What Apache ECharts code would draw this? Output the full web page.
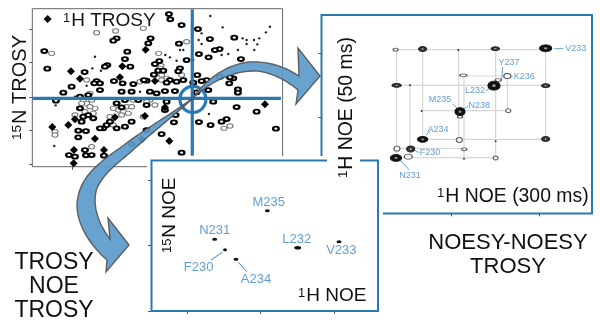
<!DOCTYPE html>
<html><head><meta charset="utf-8">
<style>html,body{margin:0;padding:0;background:#fff}#c{width:600px;height:326px;filter:blur(.4px)}</style>
<script src="https://cdn.jsdelivr.net/npm/echarts@6/dist/echarts.min.js"></script>
</head><body><div id="c"></div>
<script>
// ---------- panel 1: 1H-15N TROSY spectrum (axis units)
const trosyXTicks=[218,475];
const trosyYTicks=[88,188,292,392,492];
const trosyHeavy=[[143,57],[213,214],[437,149],[508,423],[367,199],[360,232],[240,236],[465,243],[205,375],[157,381],[425,418],[221,490],[225,358],[285,416],[795,313],[345,352],[495,322],[435,348],[222,450],[312,450]];
const trosyRing=[[507,42],[511,58],[545,75],[594,87],[452,115],[350,115],[340,122],[703,113],[630,117],[445,130],[537,131],[133,153],[382,155],[597,162],[659,147],[645,150],[626,172],[723,177],[375,177],[560,180],[478,183],[465,192],[322,195],[315,200],[391,200],[142,206],[254,216],[475,212],[490,212],[540,205],[535,214],[462,224],[592,225],[700,235],[690,232],[660,230],[620,240],[605,243],[440,242],[432,240],[290,243],[283,250],[300,250],[342,243],[400,252],[368,250],[510,240],[530,245],[500,248],[550,240],[580,248],[215,260],[300,270],[190,278],[714,268],[714,278],[688,250],[365,275],[395,275],[450,275],[470,280],[495,273],[525,273],[590,277],[625,270],[168,302],[265,285],[240,290],[640,305],[710,321],[770,335],[240,325],[365,322],[350,310],[440,315],[495,330],[250,350],[280,355],[330,365],[310,385],[320,375],[395,365],[375,380],[350,385],[235,392],[258,393],[235,412],[395,432],[597,366],[632,375],[665,365],[680,357],[828,386],[255,450],[207,465],[225,470],[258,466],[275,465],[312,467],[545,458],[485,402],[527,345],[440,390],[522,367],[245,365],[265,345],[300,385],[375,300],[415,300],[500,305]];
const trosyGrey=[[430,85],[290,98],[347,93],[560,125],[155,160],[476,160],[483,197],[260,310],[285,325],[380,320],[400,300],[465,315],[430,350],[165,395],[165,405],[690,378],[672,385],[270,320],[255,335],[355,330],[370,335],[385,340],[340,375],[330,350],[450,300],[440,305],[250,300],[275,300],[500,235],[545,225],[275,440],[480,205],[260,240],[270,280],[420,245],[485,240],[485,225],[225,345],[365,345],[340,325],[395,320],[245,310],[280,340]];
const trosySmall=[[631,48],[668,82],[810,80],[798,97],[605,100],[596,120],[740,120],[762,120],[728,115],[778,115],[605,132],[740,132],[772,133],[714,150],[763,150],[540,150],[550,150],[685,162],[665,165],[496,165],[510,172],[530,182],[580,180],[277,205],[303,212],[260,257],[420,275],[225,290],[167,316],[627,342],[163,438],[285,170]];
const crossH=[[97,295],[843,295]];
const crossV=[[577,28],[577,467]];
const crossHub=[[579,298]];
// ---------- panel 2: 1H NOE / 1H NOE plane
const noeYTicks=[160,353];
const noeXTicks=[455,717];
const noeBlack=[[737,145,12,7],[582,257,12,9],[480,335,10,8],[368,418,10,6],[288,474,11,7]];
const noeDark=[[368,147,8,5],[586,146,8,4],[290,256,9,4],[737,257,8,4],[332,447,8,6],[737,417,8,5]];
const noeOpen=[[287,149,5,3],[490,226,7,3],[622,228,7,5],[595,240,6,3],[625,332,5,4],[480,350,5,3],[478,420,6,5],[291,446,6,5],[493,448,5,3],[325,470,8,5],[587,474,5,4]];
const noeDots=[[475,150],[330,256],[365,333],[587,424],[492,476]];
const noeGrid=[[[287,149],[737,149]],[[290,256],[737,256]],[[365,332],[625,332]],[[368,418],[737,418]],[[291,445],[493,445]],[[288,473],[587,473]],[[490,228],[622,228]],
 [[290,149],[290,474]],[[330,256],[330,470]],[[368,147],[368,418]],[[476,150],[476,420]],[[492,226],[492,476]],[[587,146],[587,474]],[[622,228],[622,332]],[[737,145],[737,417]]];
const noeLabels=[[827,146,'V233'],[627,187,'Y237'],[673,229,'K236'],[525,272,'L232'],[420,300,'M235'],[538,317,'N238'],[414,388,'A234'],[390,459,'F230'],[330,528,'N231']];
const noeLeaders=[[[763,146],[790,146]],[[608,200],[605,240]],[[610,232],[638,230]],[[558,272],[575,262]],[[458,312],[472,325]],[[490,328],[505,318]],[[378,405],[392,392]],[[340,450],[358,458]],[[300,480],[328,510]]];
// ---------- panel 3: TROSY NOE TROSY
const n15XTicks=[563,781,1002];
const n15YTicks=[90,287,483];
const n15Peaks=[[802,182,5,3],[644,268,5,3],[675,299,4,3],[708,328,5,3],[893,293,7,3.5],[1017,275,5,3]];
const n15Labels=[[806,158,'M235'],[644,242,'N231'],[596,351,'F230'],[768,387,'A234'],[890,267,'L232'],[1024,302,'V233']];
const n15Leaders=[[[633,330],[668,306]],[[740,365],[715,337]]];

const BLUE='#2a78b4', LBL='#3a86c8';
const chart=echarts.init(document.getElementById('c'),null,{renderer:'canvas'});

function axis(gridIndex,min,max,inverse,ticks,position,color,z){
  return {type:'value',gridIndex,min,max,inverse,position,z,
    axisLine:{show:false},splitLine:{show:false},axisLabel:{show:false},
    axisTick:{show:true,inside:false,length:3,customValues:ticks,lineStyle:{color,width:1}}};
}
function segs(list){const o=[];list.forEach(s=>{o.push(s[0],s[1],[null,null]);});return o;}
function lineS(idx,data,color,width,z){
  return {type:'line',xAxisIndex:idx,yAxisIndex:idx,data,symbol:'none',connectNulls:false,silent:true,z,animation:false,
    lineStyle:{color,width}};
}
function dots(idx,data,sym,size,color,border,bw,z){
  return {type:'scatter',xAxisIndex:idx,yAxisIndex:idx,data,symbol:sym,symbolSize:size,z,silent:true,animation:false,
    itemStyle:{color,borderColor:border,borderWidth:bw,opacity:1}};
}
function ell(idx,data,color,border,bw,z,k){
  k=k||1;
  return {type:'scatter',xAxisIndex:idx,yAxisIndex:idx,data,symbol:'circle',z,silent:true,animation:false,
    symbolSize:d=>[d[2]*k,d[3]*k],itemStyle:{color,borderColor:border,borderWidth:bw,opacity:1}};
}
function labels(idx,data,size,z){
  return {type:'scatter',xAxisIndex:idx,yAxisIndex:idx,data,symbolSize:0,z,silent:true,animation:false,
    label:{show:true,position:'inside',formatter:p=>p.value[2],color:LBL,fontSize:size,fontFamily:'Liberation Sans'}};
}
const F='Liberation Sans';
function txt(x,y,text,size,opts){
  return Object.assign({type:'text',x,y,z:8,style:{text,fontSize:size,fontFamily:F,fill:'#111',align:'left',verticalAlign:'middle',
    rich:{s:{fontSize:size*0.68,fontFamily:F,fill:'#111',verticalAlign:'top',lineHeight:size,padding:[0,1,size*0.45,0]},b:{fontSize:size,fontFamily:F,fill:'#111'}}}},opts||{});
}
// sample a chain of cubic segments: start point, then [c1x,c1y,c2x,c2y,x,y] or [x,y] straight
function ribbon(start,segsList){
  const pts=[start];let p=start;
  segsList.forEach(s=>{
    if(s.length===2){pts.push(s);p=s;return;}
    for(let i=1;i<=24;i++){const t=i/24,u=1-t;
      pts.push([u*u*u*p[0]+3*u*u*t*s[0]+3*u*t*t*s[2]+t*t*t*s[4],u*u*u*p[1]+3*u*u*t*s[1]+3*u*t*t*s[3]+t*t*t*s[5]]);}
    p=[s[4],s[5]];
  });
  return pts;
}
const arrow1=ribbon([193,98],[[208,76,234,60,258,62],[275,63,288,69,299,76],[298,48],[320,76],[296,104],[298,90],[285,79,268,71,254,71],[235,71,212,80,193,98]]);
const arrow2=ribbon([193,98],[[175,115,155,130,133,150],[120,162,106,170,97,188],[92,203,97,222,110,239],[108,218],[129,245],[106,272],[107,260],[90,245,77,225,77,205],[78,180,95,165,120,148],[140,132,170,115,193,98]]);

chart.setOption({
  animation:false,backgroundColor:'#fff',
  grid:[
    {left:32.3,top:8.7,width:250.3,height:158,show:true,borderColor:'#666',borderWidth:1,backgroundColor:'#fff'},
    {left:321.3,top:15,width:270.7,height:198.3},
    {left:151,top:160,width:226.7,height:151}
  ],
  xAxis:[axis(0,97,848,false,trosyXTicks,'bottom','#555',0),axis(1,64,876,false,noeXTicks,'bottom','#555',6),axis(2,453,1133,false,n15XTicks,'bottom','#555',6)],
  yAxis:[axis(0,26,500,true,trosyYTicks,'left','#555',0),axis(1,45,640,true,noeYTicks,'left','#555',6),axis(2,30,483,true,n15YTicks,'left','#555',6)],
  series:[
    dots(0,trosyGrey,'circle',[6,4.5],'#fff','#777',1,2),
    dots(0,trosySmall,'circle',[2.4,2.4],'#222','#222',0,2),
    dots(0,trosyRing,'circle',[5.6,4],'#fff','#000',2,2),
    dots(0,trosyHeavy,'diamond',[8,8],'#000','#000',0,2),
    lineS(0,crossH,BLUE,3.2,4),
    lineS(0,crossV,BLUE,3.2,4),
    dots(0,crossHub,'circle',[26,26],'rgba(0,0,0,0)',BLUE,3.2,4),
    lineS(1,segs(noeGrid),'#d6d6d6',1.2,6),
    lineS(1,segs(noeLeaders),'#6aa3d5',1,7),
    ell(1,noeOpen,'#f4f4f4','#555',1,7),
    ell(1,noeDark,'#333','#222',1,7),
    ell(1,noeBlack,'#111','#111',1,7),
    ell(1,noeBlack,'#999','#999',0,7,.3),
    ell(1,noeDark,'#aaa','#aaa',0,7,.3),
    dots(1,noeDots,'circle',[2,2],'#333','#333',0,7),
    labels(1,noeLabels,9,7),
    ell(2,n15Peaks,'#111','#111',0,7),
    lineS(2,segs(n15Leaders),'#3a86c8',1,7),
    labels(2,n15Labels,13,7)
  ],
  graphic:[
    {type:'rect',z:5,shape:{x:147,y:156,width:236,height:159},style:{fill:'#fff'}},
    {type:'polygon',z:6,shape:{points:arrow1},style:{fill:'#5b9bcc',stroke:'#555',lineWidth:1.4,opacity:.92}},
    {type:'polygon',z:6,shape:{points:arrow2},style:{fill:'#5b9bcc',stroke:'#555',lineWidth:1.4,opacity:.92}},
    {type:'polyline',z:6,shape:{points:[[321.5,156],[321.5,15],[592,15],[592,213.5],[383,213.5]]},style:{fill:null,stroke:BLUE,lineWidth:2}},
    {type:'polyline',z:6,shape:{points:[[327,160.5],[151.5,160.5],[151.5,311],[378,311],[378,160.5],[360,160.5]]},style:{fill:null,stroke:BLUE,lineWidth:2}},
    txt(63,21,'{s|1}{b|H TROSY}',19),
    txt(20,140,'{s|15}{b|N TROSY}',20,{rotation:Math.PI/2}),
    txt(347,178,'{s|1}{b|H NOE (50 ms)}',19.4,{rotation:Math.PI/2}),
    txt(437,197,'{s|1}{b|H NOE (300 ms)}',19.4),
    txt(170,253,'{s|15}{b|N NOE}',19,{rotation:Math.PI/2}),
    txt(298,296,'{s|1}{b|H NOE}',19),
    {type:'text',z:8,x:54,y:287,style:{text:'TROSY\nNOE\nTROSY',fontSize:23,lineHeight:24,fontFamily:F,fill:'#111',align:'center',verticalAlign:'middle'}},
    {type:'text',z:8,x:508,y:255,style:{text:'NOESY-NOESY\nTROSY',fontSize:22,lineHeight:24,fontFamily:F,fill:'#111',align:'center',verticalAlign:'middle'}}
  ]
});
</script></body></html>
